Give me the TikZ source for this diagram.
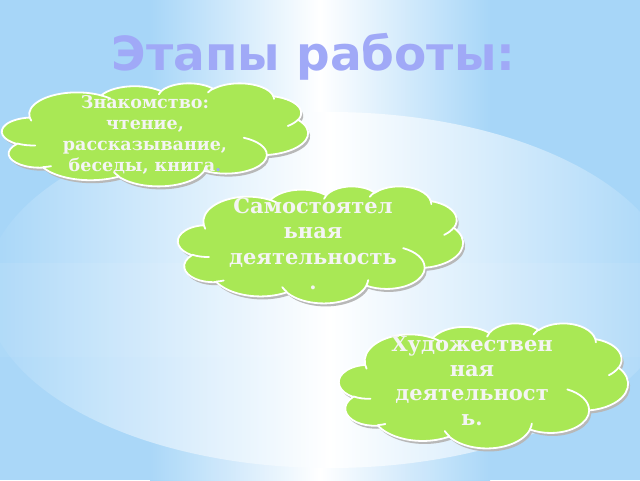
\documentclass[tikz,border=0pt]{standalone}
\usepackage{fontspec}
\setmainfont{DejaVu Serif}
\newfontfamily\titlefont{DejaVu Sans}
\definecolor{skyblue}{HTML}{A7D6F8}
\definecolor{leafgreen}{HTML}{A9E855}
\definecolor{titleblue}{HTML}{A0A9F7}
\definecolor{chalk}{HTML}{F4F4F4}
\tikzset{
  puffedge/.style={fill=leafgreen, draw=white, line width=1.8pt, line join=round},
  puffshade/.style={fill=black!28, xshift=2pt, yshift=-3pt},
  puffline/.style={draw=white, line width=1.8pt, line cap=round},
  puffnote/.style={align=center, text=chalk, inner sep=0pt}
}
% arc with an angle measured on the ellipse as seen (not the parameter)
\newcommand\ooarc[4]{%
  \pgfextra{%
    \pgfmathsetmacro\puffst{atan2(#1*sin(#3),#2*cos(#3))}%
    \pgfmathsetmacro\puffen{atan2(#1*sin(#3+#4),#2*cos(#3+#4))}%
    \pgfmathsetmacro\puffdl{mod(\puffen-\puffst+720,360)}}%
  arc[x radius=#1, y radius=#2, start angle=\puffst, delta angle=\puffdl]}
\newcommand\puffoutline{%
  (39,143.70) \ooarc{67.53}{91.90}{-190.4875}{123.7805}
  \ooarc{53.33}{72.67}{-144.1024}{89.9452}
  \ooarc{43.65}{59.45}{-145.8079}{99.7230}
  \ooarc{48.57}{65.95}{-130.9861}{117.2417}
  \ooarc{53.33}{72.73}{-78.7089}{109.0269}
  \ooarc{67.75}{92.20}{-46.2673}{130.2690}
  \ooarc{57.85}{78.67}{0.6250}{114.0333}
  \ooarc{67.52}{92.15}{22.4516}{115.1726}
  \ooarc{77.20}{105.43}{66.2426}{75.7110}
  \ooarc{43.60}{59.18}{-274.9421}{146.7356}
  \ooarc{43.45}{59.45}{-246.8285}{152.5189} -- cycle}
% cloud: centre x, centre y, width, height
\newcommand\puffcloud[4]{%
  \pgfmathsetmacro\puffsx{#3/432}\pgfmathsetmacro\puffsy{-#4/432}%
  \begin{scope}[shift={(#1-#3/2,#2-#4/2)}, x=\puffsx pt, y=\puffsy pt]
    \path[puffshade] \puffoutline;
    \path[puffedge] \puffoutline;
    \path[puffline]
      (46.93,261.77) \ooarc{43.45}{59.45}{86.742}{26.4295}
      (69.28,348.99) \ooarc{43.60}{59.18}{73.6105}{11.4475}
      (164.78,390.90) \ooarc{67.52}{92.15}{137.6242}{14.0811}
      (288.27,347.51) \ooarc{67.52}{92.15}{6.4533}{15.9984}
      (341.29,229.54) \ooarc{57.85}{78.67}{-70.2924}{70.9174}
      (417.98,153.54) \ooarc{53.33}{72.73}{30.3180}{27.7515}
      (383.24,54.26) \ooarc{48.57}{65.95}{-13.7443}{14.8589}
      (290.78,39.52) \ooarc{48.57}{65.95}{-149.1815}{18.1954}
      (221.41,47.20) \ooarc{43.65}{59.45}{-163.4943}{17.6864}
      (140.00,51.92) \ooarc{67.53}{91.90}{-66.7070}{12.3194}
      (41.27,157.89) \ooarc{67.53}{91.90}{157.6544}{11.8582};
  \end{scope}}

\begin{document}
\begin{tikzpicture}[x=1pt,y=-1pt]
  \useasboundingbox (0,0) rectangle (640,480);
  % background
  \fill[skyblue] (0,0) rectangle (640,480);
  \shade[left color=skyblue,right color=white] (150,0) rectangle (320,480);
  \shade[left color=white,right color=skyblue] (320,0) rectangle (490,480);
  \begin{scope}
    \clip (0,0) rectangle (640,480);
    \shade[left color=skyblue,right color=skyblue,middle color=white] (330,290) ellipse [x radius=345,y radius=178];
    \fill[white, opacity=.08] (0,263) rectangle (640,357);
    \fill[white, opacity=.04] (0,357) rectangle (640,480);
  \end{scope}

  \node[text=titleblue, font=\titlefont\bfseries\fontsize{47}{56}\selectfont, anchor=base] (title) at (313.5,70) {Этапы работы:};

  % clouds
  \puffcloud{155}{134.5}{306}{103}
  \node[puffnote, font=\bfseries\fontsize{17.5}{21}\selectfont] (knowtxt) at (145,135)
    {Знакомство:\\чтение,\\рассказывание,\\беседы, книга{\color{titleblue}.}};

  \puffcloud{320.5}{244.5}{285}{117}
  \node[puffnote, font=\bfseries\fontsize{21}{25.5}\selectfont] (selftxt) at (313,244)
    {Самостоятел\\ьная\\деятельность\\.};

  \puffcloud{483.5}{385.5}{289}{125}
  \node[puffnote, font=\bfseries\fontsize{21}{24.5}\selectfont] (arttxt) at (472,381)
    {Художествен\\ная\\деятельност\\ь.};
\end{tikzpicture}
\end{document}
